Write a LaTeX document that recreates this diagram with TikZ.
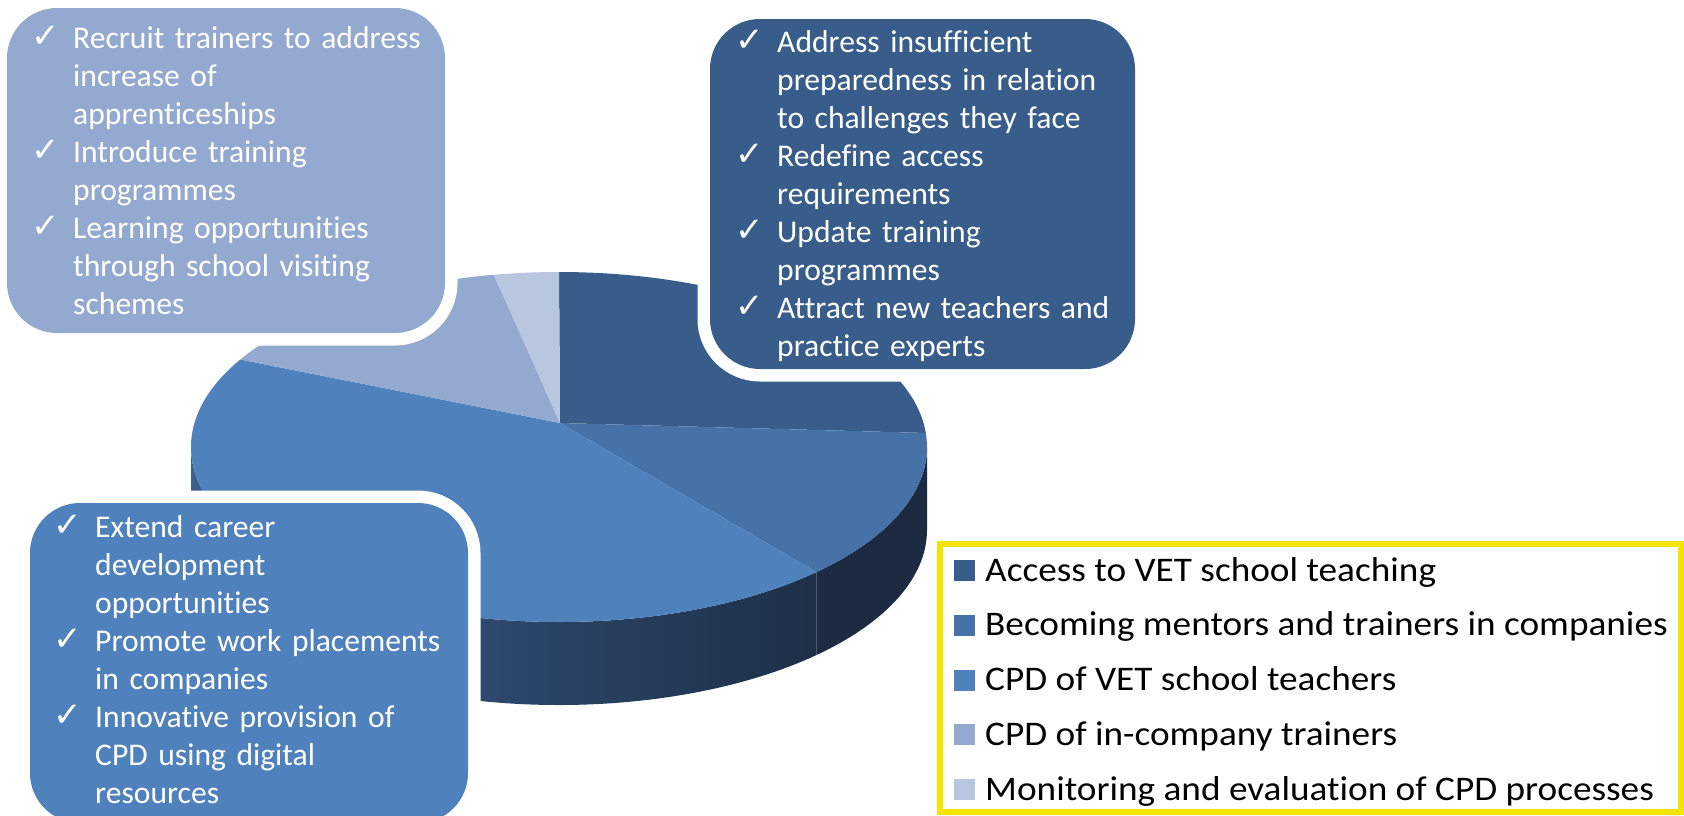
\documentclass[tikz,border=0pt]{standalone}
\usepackage{fontspec}
\setmainfont{Carlito}[Ligatures=CommonOff]
\newfontfamily\symfont{DejaVu Sans}
\usepackage{xcolor}
\definecolor{sliceA}{HTML}{385D8A}
\definecolor{sliceB}{HTML}{4672A7}
\definecolor{sliceC}{HTML}{4F81BD}
\definecolor{sliceD}{HTML}{93A9CF}
\definecolor{sliceE}{HTML}{B9C6DF}
\definecolor{sideB}{HTML}{1C2B41}
\definecolor{sideL}{HTML}{3A5F8E}
\definecolor{sideR}{HTML}{1E2F47}
\definecolor{legYellow}{HTML}{F3E500}
\newcommand{\chk}{\leavevmode\llap{\raisebox{1pt}{\symfont\fontsize{34}{34}\selectfont ✓}\hspace{13pt}}}

\begin{document}
\begin{tikzpicture}[x=1pt, y=-1pt,
    panel/.style={rounded corners=50pt, preaction={draw=white, line width=25pt}},
    paneltext/.style={anchor=base west, inner sep=0pt, text=white, align=left, text width=370pt, font=\fontsize{31.6}{38}\selectfont},
    legtext/.style={anchor=base west, inner sep=0pt, font=\fontsize{34.5}{35}\selectfont}]
    \useasboundingbox (0,0) rectangle (1684,815);
    \coordinate (pc) at (559,447);
    \coordinate (apex) at (560,423);
    \shade[left color=sideL, right color=sideR] ([shift={(45.6:368 and 175)}]pc) arc[start angle=45.6, end angle=180, x radius=368, y radius=175] -- ++(0,83) arc[start angle=180, end angle=45.6, x radius=368, y radius=175] -- cycle;
    \fill[sideB] ([shift={(0:368 and 175)}]pc) arc[start angle=0, end angle=45.6, x radius=368, y radius=175] -- ++(0,83) arc[start angle=45.6, end angle=0, x radius=368, y radius=175] -- cycle;
    \foreach \a/\b/\c in {-90/-4.6/sliceA, -4.6/45.6/sliceB, 45.6/210/sliceC, 210/259.8/sliceD, 259.8/270/sliceE}
        \fill[\c] (apex) -- ([shift={(\a:368 and 175)}]pc) arc[start angle=\a, end angle=\b, x radius=368, y radius=175] -- cycle;

    \fill[panel, sliceD] (7,8) rectangle (445,333);
    \fill[panel, sliceA] (710,19) rectangle (1135,369);
    \fill[panel, sliceC] (30,503) rectangle (468,823);

    \node[paneltext] (recruitText) at (73,48) {\chk Recruit trainers to address\\increase of\\apprenticeships\\\chk Introduce training\\programmes\\\chk Learning opportunities\\through school visiting\\schemes};
    \node[paneltext] (addressText) at (777,52) {\chk Address insufficient\\preparedness in relation\\to challenges they face\\\chk Redefine access\\requirements\\\chk Update training\\programmes\\\chk Attract new teachers and\\practice experts};
    \node[paneltext] (extendText) at (95,537) {\chk Extend career\\development\\opportunities\\\chk Promote work placements\\in companies\\\chk Innovative provision of\\CPD using digital\\resources};

    \draw[legYellow, line width=6pt] (940,544) rectangle (1681,812);
    \foreach \c/\t [count=\i from 0] in {sliceA/Access to VET school teaching, sliceB/Becoming mentors and trainers in companies, sliceC/CPD of VET school teachers, sliceD/CPD of in-company trainers, sliceE/Monitoring and evaluation of CPD processes} {
        \fill[\c] (954,{560+54.75*\i}) rectangle ++(21,21);
        \node[legtext] (leg\i) at (985,{581+54.75*\i}) {\scalebox{1.08}[1]{\t}};
    }
\end{tikzpicture}
\end{document}
